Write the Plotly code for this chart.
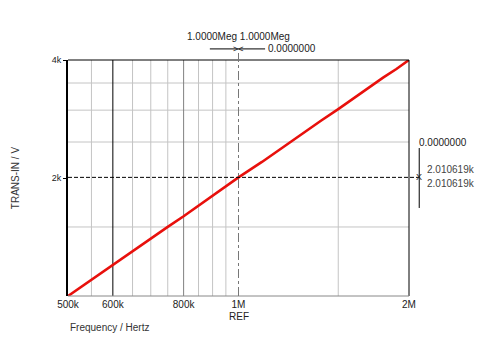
import plotly.graph_objects as go

# Data
freq_hz = [500e3, 525e3, 550e3, 575e3, 600e3, 650e3, 700e3, 750e3, 800e3, 850e3,
           900e3, 950e3, 1.0e6, 1.1e6, 1.2e6, 1.3e6, 1.4e6, 1.5e6, 1.6e6, 1.7e6,
           1.8e6, 1.9e6, 2.0e6]
trans_in_v = [0, 142, 278, 402, 525, 760, 968, 1172, 1352, 1534,
              1694, 1853, 2010, 2272, 2530, 2752, 2975, 3168, 3360, 3528,
              3700, 3848, 4000]

x_tick_vals = [500e3, 600e3, 800e3, 1e6, 2e6]
x_tick_text = ["500k", "600k", "800k", "1M", "2M"]
y_tick_vals = [2000, 4000]
y_tick_text = ["2k", "4k"]

x_grid_light = [550e3, 650e3, 700e3, 750e3, 850e3, 900e3, 950e3, 1.5e6]
x_grid_mid = [800e3]
x_grid_dark = [600e3]
y_grid = [1170, 2610, 3150, 3610]

cursor_x = 1.0e6
cursor_y = 2010.619

FONT = "Liberation Sans, Arial, sans-serif"

fig = go.Figure()
fig.add_trace(go.Scatter(x=freq_hz, y=trans_in_v, mode="lines",
                         line=dict(color="#e8100c", width=2.6), hoverinfo="skip"))

shapes = []
for v in y_grid:
    shapes.append(dict(type="line", xref="paper", yref="y", x0=0, x1=1, y0=v, y1=v,
                       line=dict(color="#c4c4c4", width=1), layer="below"))
for v in x_grid_light:
    shapes.append(dict(type="line", xref="x", yref="paper", x0=v, x1=v, y0=0, y1=1,
                       line=dict(color="#c4c4c4", width=1), layer="below"))
for v in x_grid_mid:
    shapes.append(dict(type="line", xref="x", yref="paper", x0=v, x1=v, y0=0, y1=1,
                       line=dict(color="#808080", width=1), layer="below"))
for v in x_grid_dark:
    shapes.append(dict(type="line", xref="x", yref="paper", x0=v, x1=v, y0=0, y1=1,
                       line=dict(color="#000000", width=1), layer="below"))
# frame: top, right, bottom
shapes.append(dict(type="line", xref="paper", yref="paper", x0=0, x1=1, y0=1, y1=1,
                   line=dict(color="#000", width=1)))
shapes.append(dict(type="line", xref="paper", yref="paper", x0=1, x1=1, y0=0, y1=1,
                   line=dict(color="#000", width=1)))
shapes.append(dict(type="line", xref="paper", yref="paper", x0=0, x1=1, y0=0, y1=0,
                   line=dict(color="#888", width=1)))
# cursor lines
shapes.append(dict(type="line", xref="x", yref="paper", x0=cursor_x, x1=cursor_x, y0=0, y1=1.033,
                   line=dict(color="#777", width=1, dash="dashdot")))
shapes.append(dict(type="line", xref="paper", yref="y", x0=0, x1=1.03, y0=cursor_y, y1=cursor_y,
                   line=dict(color="#000", width=1, dash="4px,2px")))
# top cursor bar
shapes.append(dict(type="line", xref="paper", yref="paper", x0=0.416, x1=0.578, y0=1.047, y1=1.047,
                   line=dict(color="#000", width=1)))
# right cursor bar
shapes.append(dict(type="line", xref="paper", yref="paper", x0=1.03, x1=1.03, y0=0.373, y1=0.627,
                   line=dict(color="#000", width=1)))

annotations = [
    dict(text="1.0000Meg 1.0000Meg", xref="x", yref="paper", x=6.0, y=1.1,
         showarrow=False, xanchor="center", yanchor="middle", font=dict(size=10, family=FONT, color="#222")),
    dict(text="><", xref="x", yref="paper", x=6.0, y=1.047, showarrow=False,
         xanchor="center", yanchor="middle", font=dict(size=9, family=FONT, color="#222")),
    dict(text="0.0000000", xref="paper", yref="paper", x=0.58, y=1.047, showarrow=False,
         xanchor="left", yanchor="middle", font=dict(size=10, family=FONT, color="#222")),
    dict(text="0.0000000", xref="paper", yref="paper", x=1.022, y=0.65, showarrow=False,
         xanchor="left", yanchor="middle", font=dict(size=10, family=FONT, color="#222")),
    dict(text="X", xref="paper", yref="y", x=1.03, y=cursor_y, showarrow=False,
         xanchor="center", yanchor="middle", font=dict(size=9, family=FONT, color="#222")),
    dict(text="2.010619k", xref="paper", yref="paper", x=1.046, y=0.535, showarrow=False,
         xanchor="left", yanchor="middle", font=dict(size=10, family=FONT, color="#444")),
    dict(text="2.010619k", xref="paper", yref="paper", x=1.046, y=0.475, showarrow=False,
         xanchor="left", yanchor="middle", font=dict(size=10, family=FONT, color="#444")),
    dict(text="REF", xref="x", yref="paper", x=6.0, y=-0.085, showarrow=False,
         xanchor="center", yanchor="middle", font=dict(size=10, family=FONT, color="#222")),
    dict(text="Frequency / Hertz", xref="paper", yref="paper", x=0.0, y=-0.135, showarrow=False,
         xanchor="left", yanchor="middle", font=dict(size=10, family=FONT, color="#333")),
    dict(text="TRANS-IN / V", xref="paper", yref="paper", x=-0.155, y=0.5, showarrow=False,
         textangle=-90, xanchor="center", yanchor="middle", font=dict(size=10, family=FONT, color="#333")),
]

# page body has an 8px margin, so the figure is 8px smaller and margins shifted
fig.update_layout(
    width=480, height=331,
    margin=dict(l=60, r=79, t=52, b=43),
    paper_bgcolor="white", plot_bgcolor="white",
    showlegend=False,
    shapes=shapes, annotations=annotations,
    xaxis=dict(type="log", range=[5.69897, 6.30103], tickvals=x_tick_vals, ticktext=x_tick_text,
               showgrid=False, zeroline=False, showline=False, ticks="",
               tickfont=dict(size=10, family=FONT, color="#222"), ticklabelstandoff=1),
    yaxis=dict(range=[0, 4000], tickvals=y_tick_vals, ticktext=y_tick_text,
               showgrid=False, zeroline=False, showline=True, linecolor="#000", linewidth=2,
               ticks="outside", ticklen=3, tickcolor="#000",
               tickfont=dict(size=9, family=FONT, color="#222")),
)

fig.write_html("out.html")
